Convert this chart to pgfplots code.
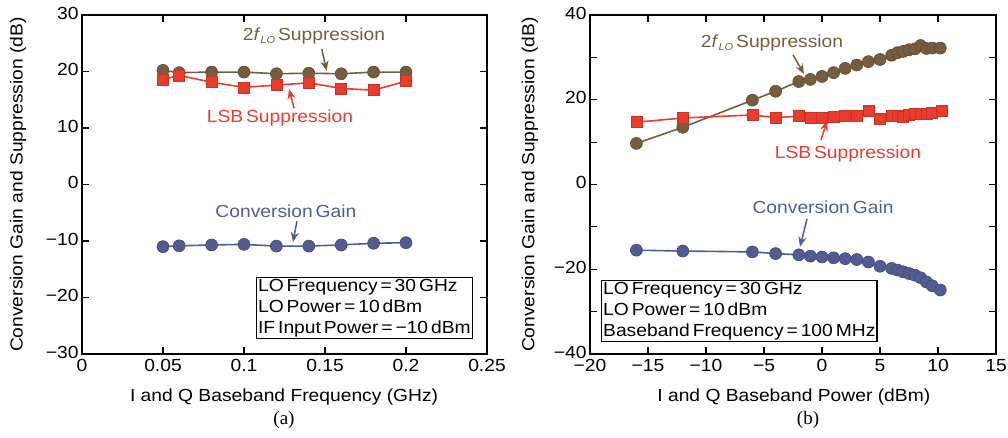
\documentclass[border=0pt]{standalone}
\usepackage{pgfplots}
\pgfplotsset{compat=1.18}
\usepackage{fontspec}
\setmainfont{Liberation Sans}[FakeStretch=1.1]
\newfontfamily\capfont{Liberation Serif}
\usetikzlibrary{arrows.meta}
\definecolor{cbrown}{RGB}{120,92,64}
\definecolor{cred}{RGB}{234,60,44}
\definecolor{cblue}{RGB}{82,92,145}
\newcommand{\twoflo}{2\textit{f}\raisebox{-0.35ex}{\fontsize{10}{10}\selectfont\textit{LO}}\,Suppression}
\tikzset{
  infobox/.style={draw, line width=1.3pt, inner sep=1.5pt, align=left, font=\fontsize{17.5}{21}\selectfont, fill=white},
  arr/.style={line width=1.5pt, -{Stealth[length=10pt,width=8pt]}},
}
\pgfplotsset{
  myaxis/.style={
    scale only axis,
    axis line style={line width=1.4pt},
    every tick/.style={line width=1.2pt,black},
    major tick length=7pt, minor tick length=7pt,
    tick align=inside,
    font=\fontsize{17.5}{20}\selectfont,
    ticklabel style={font=\fontsize{17.5}{20}\selectfont},
    xticklabel style={yshift=-2pt},
    yticklabel style={yshift=2pt},
    label style={font=\fontsize{17.5}{20}\selectfont},
    clip=false,
  },
  gser/.style={color=cbrown, line width=1.6pt, mark=*, mark size=6pt, mark options={fill=cbrown, draw=cbrown!80!black, line width=0.6pt}},
  rser/.style={color=cred, line width=1.6pt, mark=square*, mark size=5.5pt, mark options={fill=cred, draw=cred!85!black, line width=0.6pt}},
  bser/.style={color=cblue, line width=1.6pt, mark=*, mark size=6pt, mark options={fill=cblue, draw=cblue!80!black, line width=0.6pt}},
}
\begin{document}
\begin{tikzpicture}[x=1pt,y=1pt]
\path[use as bounding box] (0,0) rectangle (1008,437);

% ---------- (a) ----------
\begin{axis}[myaxis,
  at={(82pt,83pt)}, anchor=south west,
  width=405pt, height=339pt,
  xmin=0, xmax=0.25, ymin=-30, ymax=30,
  xtick={0,0.05,0.1,0.15,0.2,0.25},
  xticklabels={0,0.05,0.1,0.15,0.2,0.25},
  ytick={-30,-20,-10,0,10,20,30},
  yticklabels={−30,−20,−10,0,10,20,30},
  xlabel={I and Q Baseband Frequency (GHz)},
  ylabel={Conversion Gain and Suppression (dB)},
  xlabel style={at={(axis description cs:0.499,-0.127)}, anchor=center},
  ylabel style={at={(axis description cs:-0.158,0.5)}, anchor=center, rotate=0},
]
\addplot[gser] coordinates {(0.05,20.2) (0.06,19.8) (0.08,19.9) (0.1,19.9) (0.12,19.6) (0.14,19.7) (0.16,19.6) (0.18,19.9) (0.2,19.9)};
\addplot[rser] coordinates {(0.05,18.6) (0.06,19.3) (0.08,18.1) (0.1,17.2) (0.12,17.6) (0.14,18.0) (0.16,17.0) (0.18,16.7) (0.2,18.3)};
\addplot[bser] coordinates {(0.05,-11.0) (0.06,-10.85) (0.08,-10.7) (0.1,-10.6) (0.12,-10.9) (0.14,-10.9) (0.16,-10.7) (0.18,-10.4) (0.2,-10.3)};
\node[text=cbrown] at (axis cs:0.1432,26.3) {\twoflo};
\draw[arr,cbrown] (axis cs:0.148,24.0) -- (axis cs:0.151,20.1);
\node[text=cred] at (axis cs:0.1222,11.8) {LSB\,Suppression};
\draw[arr,cred] (axis cs:0.1309,13.5) -- (axis cs:0.1278,16.9);
\node[text=cblue] at (axis cs:0.1259,-4.7) {Conversion\,Gain};
\draw[arr,cblue] (axis cs:0.1327,-6.5) -- (axis cs:0.1302,-10.2);
\node[infobox, anchor=north west] at (axis cs:0.1074,-16.4) {LO\,Frequency\,=\,30\,GHz\\LO\,Power\,=\,10\,dBm\\IF\,Input\,Power\,=\,−10\,dBm};
\end{axis}

% ---------- (b) ----------
\begin{axis}[myaxis,
  at={(590pt,83pt)}, anchor=south west,
  width=406pt, height=339pt,
  xmin=-20, xmax=15, ymin=-40, ymax=40,
  xtick={-20,-15,-10,-5,0,5,10,15},
  xticklabels={−20,−15,−10,−5,0,5,10,15},
  ytick={-40,-20,0,20,40},
  yticklabels={−40,−20,0,20,40},
  minor ytick={-30,-10,10,30},
  xlabel={I and Q Baseband Power (dBm)},
  ylabel={Conversion Gain and Suppression (dB)},
  xlabel style={at={(axis description cs:0.502,-0.127)}, anchor=center},
  ylabel style={at={(axis description cs:-0.148,0.5)}, anchor=center, rotate=0},
]
\addplot[gser] coordinates {(-16,9.7) (-12,13.5) (-6,19.9) (-4,22.0) (-2,24.3) (-1,24.8) (0,25.5) (1,26.4) (2,27.4) (3,28.2) (4,29.0) (5,29.5) (6,30.5) (6.5,31.1) (7,31.4) (7.5,31.8) (8,32.0) (8.5,32.8) (9,32.1) (9.5,32.2) (10.2,32.2)};
\addplot[rser] coordinates {(-16,14.7) (-12,15.7) (-6,16.4) (-4,15.8) (-2,16.1) (-1,15.7) (0,15.8) (1,15.9) (2,16.1) (3,16.1) (4,17.4) (5,15.6) (6,16.1) (6.5,16.2) (7,16.0) (7.5,16.4) (8,16.6) (8.5,16.8) (9,16.6) (9.5,17.0) (10.3,17.4)};
\addplot[bser] coordinates {(-16,-15.5) (-12,-15.7) (-6,-15.9) (-4,-16.3) (-2,-16.6) (-1,-16.9) (0,-17.1) (1,-17.3) (2,-17.5) (3,-17.7) (4,-18.3) (5,-19.3) (6,-19.8) (6.5,-20.2) (7,-20.6) (7.5,-21.0) (8,-21.4) (8.5,-22.0) (9,-23.0) (9.5,-23.9) (10.2,-24.9)};
\node[text=cbrown] at (axis cs:-4.31,33.4) {\twoflo};
\draw[arr,cbrown] (axis cs:-2.5,30.6) -- (axis cs:-1.55,26.1);
\node[text=cred] at (axis cs:2.24,7.2) {LSB\,Suppression};
\draw[arr,cred] (axis cs:-0.09,10.5) -- (axis cs:0.43,15.0);
\node[text=cblue] at (axis cs:0.09,-5.3) {Conversion\,Gain};
\draw[arr,cblue] (axis cs:-1.29,-8.1) -- (axis cs:-1.9,-14.7);
\node[infobox, anchor=north west] at (axis cs:-19.05,-22.5) {LO\,Frequency\,=\,30\,GHz\\LO\,Power\,=\,10\,dBm\\Baseband\,Frequency\,=\,100\,MHz};
\end{axis}

\node[font=\capfont\fontsize{19}{20}\selectfont] at (284,17) {(a)};
\node[font=\capfont\fontsize{19}{20}\selectfont] at (808,17) {(b)};
\end{tikzpicture}
\end{document}
